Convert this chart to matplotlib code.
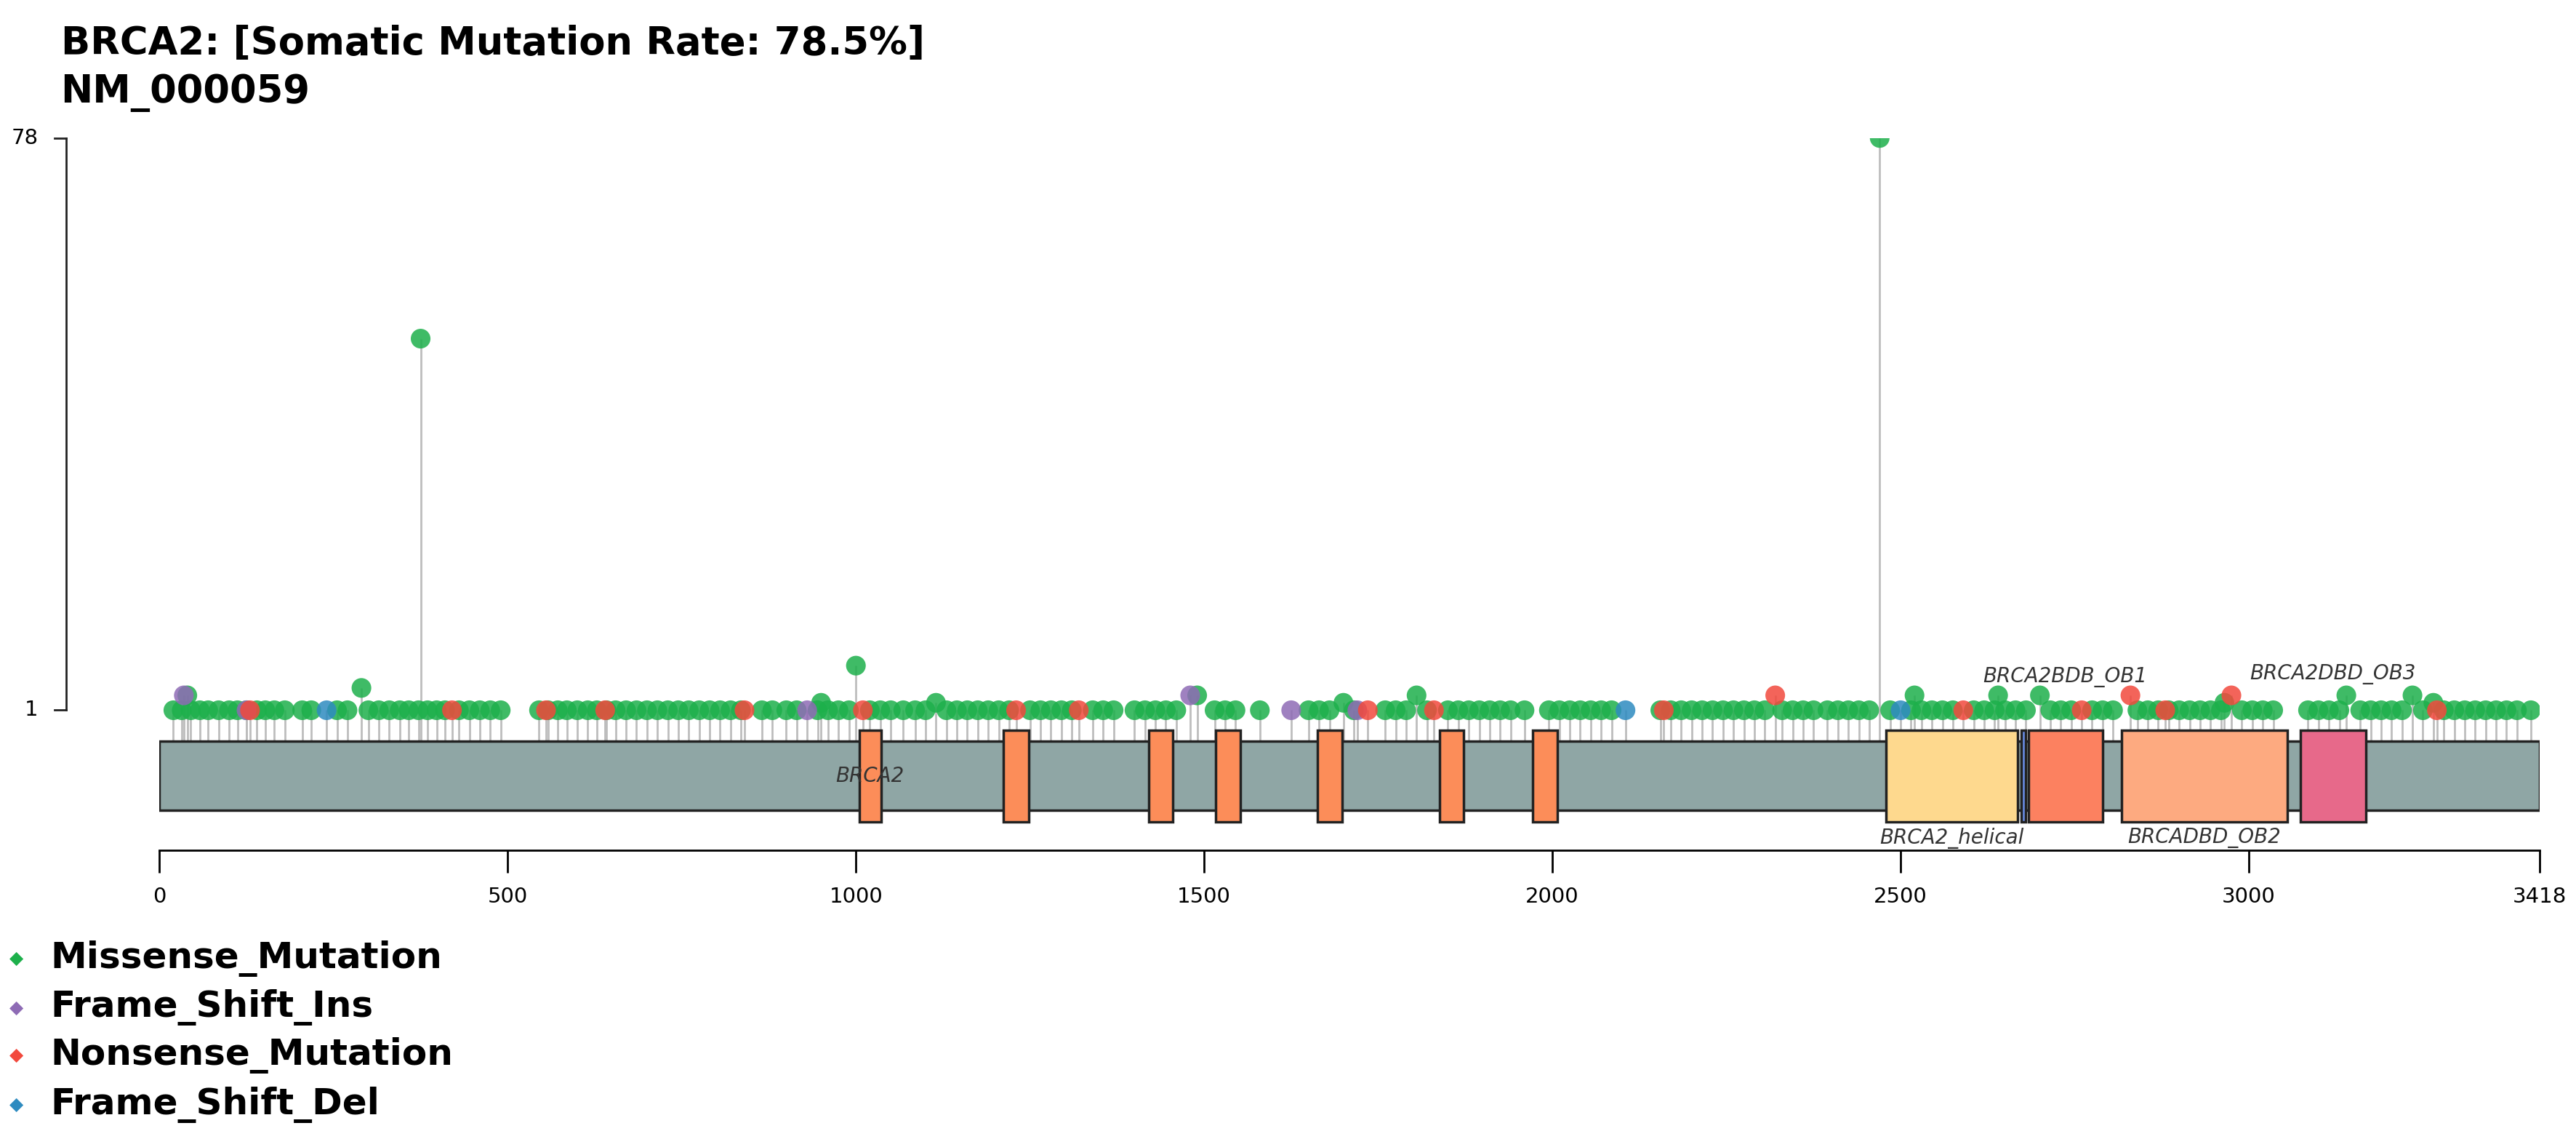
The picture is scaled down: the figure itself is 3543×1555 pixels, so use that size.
import matplotlib.pyplot as plt
from matplotlib.patches import Rectangle

prot_len = 3418

# mutation positions (aa) and counts per class
missense_single = [20, 32, 45, 58, 70, 85, 100, 112, 125, 140, 152, 165, 180, 205, 218, 255, 270, 300, 315,
                   330, 345, 358, 372, 385, 398, 410, 430, 445, 460, 475, 490,
                   545, 558, 572, 585, 600, 615, 628, 642, 655, 670, 685, 700, 715, 730, 745, 760, 775, 790,
                   805, 820, 835, 865, 880, 900, 915, 945, 960, 975, 990,
                   1020, 1035, 1050, 1068, 1085, 1100, 1130, 1145, 1160, 1175, 1190, 1205, 1220, 1250,
                   1265, 1280, 1295, 1310, 1340, 1355, 1370, 1400, 1415, 1430, 1445, 1460,
                   1515, 1530, 1545, 1580, 1650, 1665, 1680, 1715, 1760, 1775, 1790, 1820, 1850, 1865,
                   1880, 1895, 1910, 1925, 1940, 1960, 1995, 2010, 2025, 2040, 2055, 2070, 2085,
                   2155, 2170, 2185, 2200, 2215, 2230, 2245, 2260, 2275, 2290, 2305, 2330, 2345, 2360,
                   2375, 2395, 2410, 2425, 2440, 2455, 2485,
                   2515, 2530, 2545, 2560, 2575, 2605, 2620, 2635, 2650, 2665, 2680, 2715, 2730, 2745,
                   2775, 2790, 2805, 2840, 2855, 2870, 2885, 2900, 2915, 2930, 2945, 2960, 2990, 3005,
                   3020, 3035, 3085, 3100, 3115, 3130, 3160, 3175, 3190, 3205, 3220, 3250, 3280, 3295,
                   3310, 3325, 3340, 3355, 3370, 3385, 3405]
missense_hi_pos = [375, 2470, 1000, 290, 40, 1805, 1490, 2520, 2640, 2700, 3140, 3235, 1115, 1700,
                   950, 2965, 3265]
missense_hi_cnt = [51, 78, 7, 4, 3, 3, 3, 3, 3, 3, 3, 3, 2, 2, 2, 2, 2]
missense_pos = missense_single + missense_hi_pos
missense_cnt = [1] * len(missense_single) + missense_hi_cnt

nonsense_pos = [130, 420, 555, 640, 840, 1010, 1230, 1320, 1735, 1830, 2160, 2320, 2590, 2760,
                2830, 2880, 2975, 3270]
nonsense_cnt = [1, 1, 1, 1, 1, 1, 1, 1, 1, 1, 1, 3, 1, 1, 3, 1, 3, 1]

fsins_pos = [35, 125, 930, 1480, 1625, 1720]
fsins_cnt = [3, 1, 1, 3, 1, 1]

fsdel_pos = [240, 2105, 2500]
fsdel_cnt = [1, 1, 1]

# domains: start, end, colour
dom_start = [1005, 1212, 1420, 1517, 1663, 1838, 1972, 2479, 2673, 2684, 2817, 3074]
dom_end = [1036, 1248, 1455, 1552, 1698, 1873, 2007, 2668, 2680, 2790, 3055, 3168]
dom_col = ['#FC8D59'] * 7 + ['#FED98E', '#6A8FE8', '#FC8160', '#FDAA80', '#E7698A']

tick_vals = [0, 500, 1000, 1500, 2000, 2500, 3000, 3418]

colors = {'Missense_Mutation': '#1DB04B', 'Frame_Shift_Ins': '#8E6BB5',
          'Nonsense_Mutation': '#F2493D', 'Frame_Shift_Del': '#2E8BC0'}

fig = plt.figure(figsize=(35.43, 15.55), dpi=100)
ax = fig.add_axes([0.0619, 0.2485, 0.9241, 0.6295])
ax.set_xlim(0, prot_len)
ax.set_ylim(-17.8, 78)
for s in ['top', 'right', 'left']:
    ax.spines[s].set_visible(False)
ax.spines['bottom'].set_linewidth(2)
ax.set_yticks([])
ax.set_xticks(tick_vals)
ax.tick_params(axis='x', length=22, width=2, labelsize=21, pad=14)

bar_top, bar_bot = -3.2, -12.5

series = [(missense_pos, missense_cnt, 'Missense_Mutation'),
          (fsins_pos, fsins_cnt, 'Frame_Shift_Ins'),
          (nonsense_pos, nonsense_cnt, 'Nonsense_Mutation'),
          (fsdel_pos, fsdel_cnt, 'Frame_Shift_Del')]
for pos, cnt, name in series:
    ax.vlines(pos, bar_top, cnt, color='#BDBDBD', lw=2, zorder=1)
for pos, cnt, name in series:
    ax.scatter(pos, cnt, s=380, color=colors[name], alpha=0.85, edgecolors='none', zorder=3)

# protein body
ax.add_patch(Rectangle((0, bar_bot), prot_len, bar_top - bar_bot, facecolor='#8FA6A5',
                       edgecolor='#222222', lw=2.5, zorder=2))
for s, e, c in zip(dom_start, dom_end, dom_col):
    ax.add_patch(Rectangle((s, -14.05), e - s, 12.4, facecolor=c, edgecolor='#222222', lw=2.5, zorder=2))

lab_kw = dict(fontsize=20, style='italic', color='#333333', ha='center', va='center')
ax.text(1020, -7.9, 'BRCA2', zorder=4, **lab_kw)
ax.text(2573, -16.2, 'BRCA2_helical', **lab_kw)
ax.text(2736, 5.5, 'BRCA2BDB_OB1', **lab_kw)
ax.text(2936, -16.2, 'BRCADBD_OB2', **lab_kw)
ax.text(3121, 5.8, 'BRCA2DBD_OB3', **lab_kw)

# y axis drawn by hand
yx = -134
ax.plot([yx, yx], [1, 78], color='#222222', lw=2, clip_on=False)
for v in [1, 78]:
    ax.plot([yx - 17, yx], [v, v], color='#222222', lw=2, clip_on=False)
    ax.text(yx - 40, v, str(v), fontsize=21, ha='right', va='center')

fig.text(0.0236, 0.978, 'BRCA2: [Somatic Mutation Rate: 78.5%]', fontsize=38, fontweight='bold', va='top')
fig.text(0.0236, 0.935, 'NM_000059', fontsize=38, fontweight='bold', va='top')

leg_y = [583, 613, 642, 672]
for (pos, cnt, name), ly in zip(series, leg_y):
    fy = 1 - ly / 688
    fig.text(0.0064, fy, '\u25c6', color=colors[name], fontsize=18, ha='center', va='center')
    fig.text(0.0195, fy, name, fontsize=36, fontweight='bold', va='center')

fig.savefig('out.png', dpi=100)
